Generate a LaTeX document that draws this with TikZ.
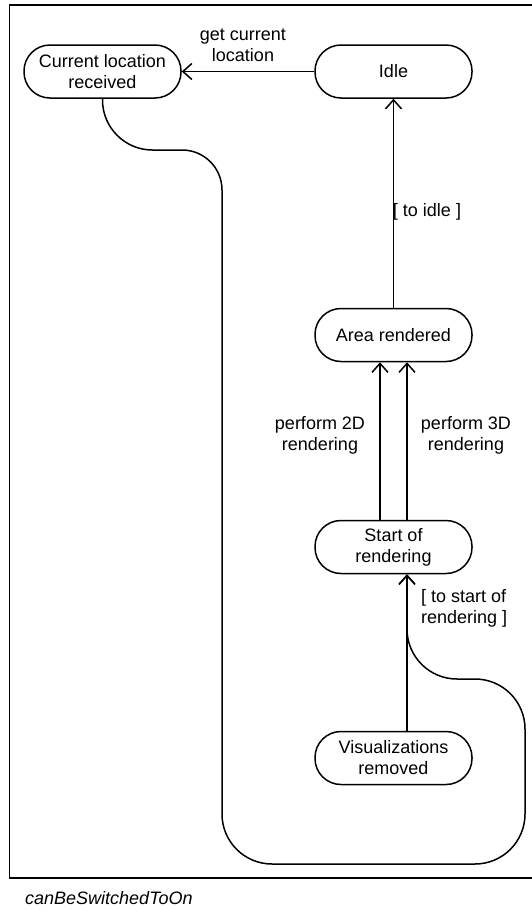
\documentclass[tikz,border=0pt]{standalone}
\usepackage{fontspec}
\setmainfont{Liberation Sans}
\usetikzlibrary{arrows.meta,calc}
\begin{document}
\begin{tikzpicture}[x=1pt,y=-1pt,
  state/.style={draw, line width=1.5pt, rounded corners=26pt,
    minimum width=157pt, minimum height=53pt, align=center,
    inner sep=0pt, font=\fontsize{18}{21}\selectfont},
  lbl/.style={align=center, inner sep=0pt, font=\fontsize{18}{21}\selectfont},
  wire/.style={line width=1.5pt},
  conn/.style={wire, -{Straight Barb[length=9pt,width=16pt]}},
  ]
\useasboundingbox (0,0) rectangle (532,911);

% frame of the state machine
\draw[line width=1.6pt] (9.5,5) rectangle (536,878);
\node[anchor=base west, inner sep=0pt, font=\fontsize{18}{21}\selectfont\itshape]
  (title) at (25,904) {canBeSwitchedToOn};

% states
\node[state] (cur)   at (102.5,71.5) {Current location\\received};
\node[state] (idle)  at (393.5,71.5) {Idle};
\node[state] (area)  at (393.5,335)  {Area rendered};
\node[state] (start) at (393.5,547)  {Start of\\rendering};
\node[state] (vis)   at (393.5,758)  {Visualizations\\removed};

% transitions
\draw[conn] (idle) -- (cur);
\node[lbl] (lget) at (243,45) {get current\\location};

\draw[conn] (area) -- (idle);
\node[lbl] (lidle) at (427,212) {[ to idle ]};

\draw[conn] ($(start.north)+(-13.5,0)$) -- ($(area.south)+(-13.5,0)$);
\draw[conn] ($(start.north)+(13.5,0)$) -- ($(area.south)+(13.5,0)$);
\node[lbl] (l2d) at (320,435) {perform 2D\\rendering};
\node[lbl] (l3d) at (466,435) {perform 3D\\rendering};

\coordinate (tin)  at ($(start.south)+(13.5,0)$);
\coordinate (vout) at ($(vis.north)+(13.5,0)$);
\draw[conn] (vout) -- (tin);
\node[lbl, align=left, anchor=west] (lstart) at (421,608) {[ to start of\\rendering ]};

% long loop from the received location back to the start of rendering
\coordinate (w1) at (102.5,150);
\coordinate (w2) at (222,150);
\coordinate (w3) at (222,864);
\coordinate (w4) at (525,864);
\coordinate (w5) at (525,679);
\coordinate (w6) at (tin |- w5);
\draw[conn] (cur.south) [rounded corners=50pt] -- (w1)
  [rounded corners=40pt] -- (w2)
  [rounded corners=50pt] -- (w3) -- (w4) -- (w5) -- (w6) -- (tin);
\end{tikzpicture}
\end{document}
